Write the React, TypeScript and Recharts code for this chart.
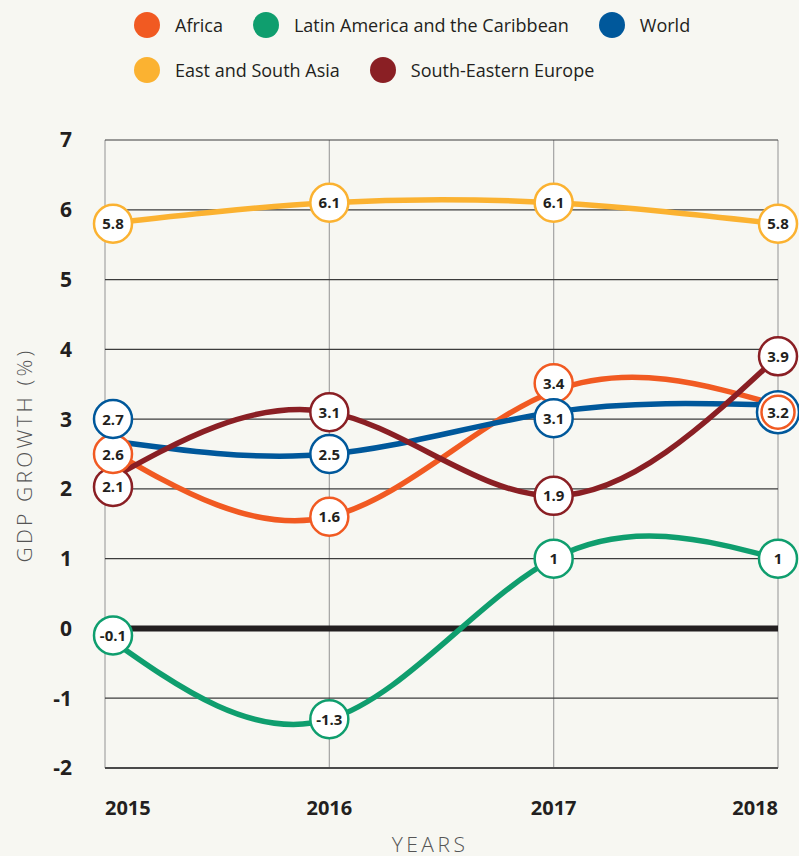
import { LineChart, Line, XAxis, YAxis, CartesianGrid, ReferenceLine } from "recharts";

const years = ["2015", "2016", "2017", "2018"];
const africa = [2.6, 1.6, 3.4, 3.2];
const latinAmerica = [-0.1, -1.3, 1, 1];
const world = [2.7, 2.5, 3.1, 3.2];
const eastSouthAsia = [5.8, 6.1, 6.1, 5.8];
const southEastEurope = [2.1, 3.1, 1.9, 3.9];
const yTicks = [-2, -1, 0, 1, 2, 3, 4, 5, 6, 7];

const SERIES = [
  { key: "Africa", values: africa, color: "#f15a22" },
  { key: "Latin America and the Caribbean", values: latinAmerica, color: "#0f9e6e" },
  { key: "World", values: world, color: "#00589b" },
  { key: "East and South Asia", values: eastSouthAsia, color: "#fbb231" },
  { key: "South-Eastern Europe", values: southEastEurope, color: "#8a1f24" },
];

const data = years.map((year, i) => {
  const row: Record<string, string | number> = { year };
  SERIES.forEach((s) => (row[s.key] = s.values[i]));
  return row;
});

const color = (key: string) => SERIES.find((s) => s.key === key)!.color;

// label bubbles nudged where they'd overlap each other
const nudge: Record<string, Record<number, number>> = {
  World: { 0: -21, 2: 6, 3: 7 },
  Africa: { 0: 7, 2: -8 },
  "South-Eastern Europe": { 0: 5 },
};

const INK = "#231f20";
const FONT = "'Open Sans', sans-serif";

const makeDot = (key: string) => (props: any) => {
  const { cx, cy, index, value } = props;
  // Africa 2018 shares the World bubble (double ring), drawn by World
  if (cx == null || cy == null || (key === "Africa" && index === 3)) return <g key={`${key}-${index}`} />;
  const x = cx + (index === 0 ? 8 : 0);
  const y = cy + (nudge[key]?.[index] ?? 0);
  const shared = key === "World" && index === 3;
  return (
    <g key={`${key}-${index}`}>
      <circle cx={x} cy={y} r={shared ? 21 : 19} fill="#fff" stroke={color(key)} strokeWidth={2.5} />
      {shared && <circle cx={x} cy={y} r={16.5} fill="#fff" stroke={color("Africa")} strokeWidth={2.5} />}
      <text x={x} y={y + 5.5} textAnchor="middle" fontFamily={FONT} fontWeight={700} fontSize={15} fill={INK}>
        {value}
      </text>
    </g>
  );
};

const XTick = (props: any) => {
  const { x, y, payload, index } = props;
  const anchor = index === 0 ? "start" : index === years.length - 1 ? "end" : "middle";
  return (
    <text x={x} y={y + 45} textAnchor={anchor} fontFamily={FONT} fontWeight={700} fontSize={20} fill={INK}>
      {payload.value}
    </text>
  );
};

const legendRows = [
  ["Africa", "Latin America and the Caribbean", "World"],
  ["East and South Asia", "South-Eastern Europe"],
];

function Legend() {
  return (
    <div style={{ position: "absolute", left: 134, top: 2, fontFamily: FONT, fontSize: 18, color: INK }}>
      {legendRows.map((row, r) => (
        <div key={r} style={{ display: "flex", alignItems: "center", height: 45 }}>
          {row.map((k) => (
            <div key={k} style={{ display: "flex", alignItems: "center", marginRight: 30 }}>
              <span style={{ width: 26, height: 26, borderRadius: "50%", background: color(k), marginRight: 15 }} />
              <span>{k}</span>
            </div>
          ))}
        </div>
      ))}
    </div>
  );
}

const drawOrder = ["Latin America and the Caribbean", "East and South Asia", "Africa", "World", "South-Eastern Europe"];
const labelOrder = ["Latin America and the Caribbean", "East and South Asia", "South-Eastern Europe", "Africa", "World"];

export default function App() {
  return (
    <div style={{ position: "absolute", left: 0, top: 0, width: 799, height: 856, background: "#f7f7f2", overflow: "hidden" }}>
      <Legend />
      <LineChart width={799} height={856} data={data} margin={{ top: 140, right: 21, bottom: 0, left: 0 }}>
        <CartesianGrid horizontal={false} stroke="#a3a3a3" strokeWidth={1.2} />
        <CartesianGrid vertical={false} stroke="#3c3c3c" strokeWidth={1.2} />
        <XAxis
          dataKey="year"
          height={88}
          tick={<XTick />}
          tickLine={false}
          tickSize={0}
          axisLine={{ stroke: "#4a4a4a", strokeWidth: 2 }}
          interval={0}
          label={() => (
            <text
              x={430}
              y={852}
              textAnchor="middle"
              fontFamily={FONT}
              fontWeight={300}
              fontSize={21}
              letterSpacing={3.5}
              fill="#555"
            >
              YEARS
            </text>
          )}
        />
        <YAxis
          width={105}
          domain={[-2, 7]}
          ticks={yTicks}
          interval={0}
          tickLine={false}
          tickSize={0}
          tickMargin={33}
          axisLine={false}
          tick={{ fontFamily: FONT, fontWeight: 700, fontSize: 21, fill: INK }}
          label={() => (
            <text
              x={32}
              y={455}
              transform="rotate(-90 32 455)"
              textAnchor="middle"
              fontFamily={FONT}
              fontWeight={300}
              fontSize={21}
              letterSpacing={3.2}
              fill="#555"
            >
              GDP GROWTH (%)
            </text>
          )}
        />
        <ReferenceLine y={0} stroke={INK} strokeWidth={6} />
        {drawOrder.map((k) => (
          <Line
            key={k}
            type="natural"
            dataKey={k}
            stroke={color(k)}
            strokeWidth={5.5}
            dot={false}
            activeDot={false}
            isAnimationActive={false}
          />
        ))}
        {labelOrder.map((k) => (
          <Line
            key={`${k}-labels`}
            type="natural"
            dataKey={k}
            stroke="none"
            strokeWidth={0}
            dot={makeDot(k)}
            activeDot={false}
            legendType="none"
            isAnimationActive={false}
          />
        ))}
      </LineChart>
    </div>
  );
}
